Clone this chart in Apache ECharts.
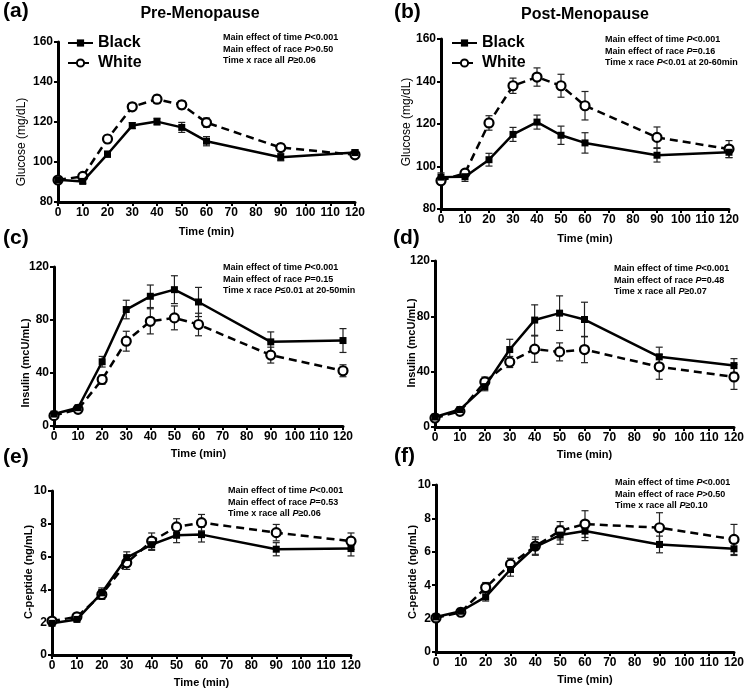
<!DOCTYPE html>
<html>
<head>
<meta charset="utf-8">
<script src="https://cdn.jsdelivr.net/npm/echarts@6/dist/echarts.min.js"></script>
<style>html,body{margin:0;padding:0;background:#fff;}#c{width:747px;height:689px;}</style>
</head>
<body>
<div id="c"></div>
<script>
// ---- data ----
const times = [0, 10, 20, 30, 40, 50, 60, 90, 120];
const xTicks = [0, 10, 20, 30, 40, 50, 60, 70, 80, 90, 100, 110, 120];

const glucosePreBlack   = [91.1, 90.3, 103.9, 118.2, 120.2, 117.3, 110.4, 102.4, 104.7];
const glucosePreBlackSE = [1.0, 1.0, 1.5, 1.5, 1.7, 2.5, 2.3, 1.8, 1.5];
const glucosePreWhite   = [91.0, 92.8, 111.5, 127.6, 131.4, 128.6, 119.7, 107.2, 103.6];
const glucosePreWhiteSE = [1.0, 1.2, 1.8, 1.7, 2.0, 2.0, 2.3, 2.0, 1.5];

const glucosePostBlack   = [95.0, 95.2, 103.2, 115.1, 120.9, 114.7, 111.1, 105.3, 106.7];
const glucosePostBlackSE = [2.0, 2.2, 3.0, 3.3, 3.3, 4.3, 4.8, 3.2, 2.5];
const glucosePostWhite   = [93.3, 96.9, 120.5, 138.0, 142.1, 138.0, 128.6, 113.7, 108.2];
const glucosePostWhiteSE = [1.5, 1.5, 3.4, 3.6, 4.3, 5.4, 6.7, 4.9, 4.0];

const insulinPreBlack   = [9.0, 13.8, 48.5, 87.9, 97.9, 102.9, 93.6, 63.5, 64.5];
const insulinPreBlackSE = [1.0, 1.0, 4.0, 7.0, 8.5, 10.5, 11.0, 7.5, 9.0];
const insulinPreWhite   = [7.8, 12.6, 35.1, 64.0, 79.0, 81.6, 76.6, 53.5, 41.7];
const insulinPreWhiteSE = [1.0, 1.0, 3.5, 7.5, 9.5, 9.0, 8.5, 6.0, 4.5];

const insulinPostBlack   = [7.2, 12.6, 29.2, 56.0, 77.3, 82.3, 77.7, 50.7, 44.4];
const insulinPostBlackSE = [1.0, 1.0, 3.0, 7.4, 11.0, 12.5, 12.5, 7.0, 5.0];
const insulinPostWhite   = [6.5, 11.3, 32.6, 47.0, 56.3, 54.3, 56.0, 43.5, 36.2];
const insulinPostWhiteSE = [1.0, 1.0, 3.5, 4.0, 9.5, 6.5, 9.5, 9.0, 9.0];

const cpepPreBlack   = [1.93, 2.17, 3.79, 5.94, 6.73, 7.30, 7.34, 6.45, 6.49];
const cpepPreBlackSE = [0.10, 0.10, 0.30, 0.35, 0.35, 0.45, 0.45, 0.40, 0.45];
const cpepPreWhite   = [2.07, 2.33, 3.69, 5.62, 6.94, 7.81, 8.07, 7.46, 6.94];
const cpepPreWhiteSE = [0.10, 0.10, 0.30, 0.40, 0.50, 0.50, 0.50, 0.50, 0.50];

const cpepPostBlack   = [2.10, 2.44, 3.30, 4.94, 6.30, 7.00, 7.24, 6.44, 6.18];
const cpepPostBlackSE = [0.10, 0.12, 0.25, 0.40, 0.45, 0.55, 0.57, 0.50, 0.40];
const cpepPostWhite   = [2.04, 2.38, 3.86, 5.26, 6.34, 7.26, 7.66, 7.44, 6.74];
const cpepPostWhiteSE = [0.10, 0.10, 0.30, 0.35, 0.55, 0.55, 0.80, 0.90, 0.90];

const panelLabels = ['(a)', '(b)', '(c)', '(d)', '(e)', '(f)'];
const columnTitles = ['Pre-Menopause', 'Post-Menopause'];
const yTitles = ['Glucose (mg/dL)', 'Glucose (mg/dL)', 'Insulin (mcU/mL)', 'Insulin (mcU/mL)', 'C-peptide (ng/mL)', 'C-peptide (ng/mL)'];
const xTitle = 'Time (min)';
const seriesNames = ['Black', 'White'];
const statTexts = [
  [['Main effect of time ', 'P', '<0.001'], ['Main effect of race ', 'P', '>0.50'], ['Time x race all ', 'P', '\u22650.06']],
  [['Main effect of time ', 'P', '<0.001'], ['Main effect of race ', 'P', '=0.16'], ['Time x race ', 'P', '<0.01 at 20-60min']],
  [['Main effect of time ', 'P', '<0.001'], ['Main effect of race ', 'P', '=0.15'], ['Time x race ', 'P', '\u22640.01 at 20-50min']],
  [['Main effect of time ', 'P', '<0.001'], ['Main effect of race ', 'P', '=0.48'], ['Time x race all ', 'P', '\u22650.07']],
  [['Main effect of time ', 'P', '<0.001'], ['Main effect of race ', 'P', '=0.53'], ['Time x race all ', 'P', '\u22650.06']],
  [['Main effect of time ', 'P', '<0.001'], ['Main effect of race ', 'P', '>0.50'], ['Time x race all ', 'P', '\u22650.10']]
];

const panelData = [
  {black: glucosePreBlack, blackSE: glucosePreBlackSE, white: glucosePreWhite, whiteSE: glucosePreWhiteSE},
  {black: glucosePostBlack, blackSE: glucosePostBlackSE, white: glucosePostWhite, whiteSE: glucosePostWhiteSE},
  {black: insulinPreBlack, blackSE: insulinPreBlackSE, white: insulinPreWhite, whiteSE: insulinPreWhiteSE},
  {black: insulinPostBlack, blackSE: insulinPostBlackSE, white: insulinPostWhite, whiteSE: insulinPostWhiteSE},
  {black: cpepPreBlack, blackSE: cpepPreBlackSE, white: cpepPreWhite, whiteSE: cpepPreWhiteSE},
  {black: cpepPostBlack, blackSE: cpepPostBlackSE, white: cpepPostWhite, whiteSE: cpepPostWhiteSE}
];
const yScales = [
  {min: 80, max: 160, interval: 20},
  {min: 80, max: 160, interval: 20},
  {min: 0, max: 120, interval: 40},
  {min: 0, max: 120, interval: 40},
  {min: 0, max: 10, interval: 2},
  {min: 0, max: 10, interval: 2}
];

// ---- layout ----
const FONT = '"Liberation Sans", Arial, sans-serif';
const grids = [
  {left: 58, top: 42, width: 297, height: 160},
  {left: 441, top: 39, width: 288, height: 170},
  {left: 54, top: 267, width: 289, height: 159},
  {left: 435, top: 261, width: 301, height: 166},
  {left: 52, top: 491, width: 299, height: 164},
  {left: 436, top: 485, width: 300, height: 167}
];
const labelPos = [[3, 11], [394, 12], [3, 238], [393, 238], [3, 457], [394, 456]];
const titlePos = [[200, 14], [585, 15]];
const yTitlePos = [[22, 142], [407, 122], [26, 363], [412, 343], [29, 572], [413, 572]];
const statPos = [[223, 32], [605, 34], [223, 262], [614, 263], [228, 485], [615, 477]];

const xAxes = [], yAxes = [], series = [], graphics = [];

function errRender(params, api) {
  const x = api.value(0);
  const top = api.coord([x, api.value(2)]);
  const bot = api.coord([x, api.value(1)]);
  const cap = 3.5;
  const st = {stroke: '#222', lineWidth: 1.2};
  return {type: 'group', children: [
    {type: 'line', shape: {x1: top[0], y1: top[1], x2: bot[0], y2: bot[1]}, style: st},
    {type: 'line', shape: {x1: top[0] - cap, y1: top[1], x2: top[0] + cap, y2: top[1]}, style: st},
    {type: 'line', shape: {x1: bot[0] - cap, y1: bot[1], x2: bot[0] + cap, y2: bot[1]}, style: st}
  ]};
}

grids.forEach((g, i) => {
  xAxes.push({
    type: 'value', gridIndex: i, min: xTicks[0], max: xTicks[xTicks.length - 1], interval: xTicks[1] - xTicks[0],
    name: xTitle, nameLocation: 'middle', nameGap: (i < 2 ? 24 : 22),
    nameTextStyle: {fontFamily: FONT, fontWeight: 'bold', fontSize: 11, color: '#000'},
    axisLine: {onZero: false, lineStyle: {color: '#000', width: 3}},
    axisTick: {show: true, length: 4, lineStyle: {color: '#000', width: 2}},
    axisLabel: {margin: 5, fontFamily: FONT, fontWeight: 'bold', fontSize: 12, color: '#000', hideOverlap: false},
    splitLine: {show: false}
  });
  const ys = yScales[i];
  yAxes.push({
    type: 'value', gridIndex: i, min: ys.min, max: ys.max, interval: ys.interval,
    axisLine: {show: true, onZero: false, lineStyle: {color: '#000', width: 3}},
    axisTick: {show: true, length: 4, lineStyle: {color: '#000', width: 2}},
    axisLabel: {margin: 5, fontFamily: FONT, fontWeight: 'bold', fontSize: 12, color: '#000'},
    splitLine: {show: false}
  });
  const d = panelData[i];
  const mk = (vals, se) => times.map((t, k) => [t, vals[k] - se[k], vals[k] + se[k]]);
  series.push({
    type: 'custom', xAxisIndex: i, yAxisIndex: i, renderItem: errRender,
    data: mk(d.white, d.whiteSE), encode: {x: 0, y: [1, 2]}, z: 1, silent: true
  });
  series.push({
    type: 'custom', xAxisIndex: i, yAxisIndex: i, renderItem: errRender,
    data: mk(d.black, d.blackSE), encode: {x: 0, y: [1, 2]}, z: 1, silent: true
  });
  series.push({
    name: seriesNames[1], type: 'line', xAxisIndex: i, yAxisIndex: i,
    data: times.map((t, k) => [t, d.white[k]]),
    symbol: 'circle', symbolSize: 9, clip: false,
    lineStyle: {color: '#000', width: 2.5, type: [8, 5]},
    itemStyle: {color: '#fff', borderColor: '#000', borderWidth: 2.2},
    z: 3, animation: false
  });
  series.push({
    name: seriesNames[0], type: 'line', xAxisIndex: i, yAxisIndex: i,
    data: times.map((t, k) => [t, d.black[k]]),
    symbol: 'rect', symbolSize: 7, clip: false,
    lineStyle: {color: '#000', width: 2.5},
    itemStyle: {color: '#000', borderColor: '#000', borderWidth: 0},
    z: 4, animation: false
  });

  graphics.push({type: 'text', x: labelPos[i][0], y: labelPos[i][1],
    style: {text: panelLabels[i], font: 'bold 21px ' + FONT, fill: '#000', textAlign: 'left', textVerticalAlign: 'middle'}});
  graphics.push({type: 'text', x: yTitlePos[i][0], y: yTitlePos[i][1], rotation: Math.PI / 2,
    style: {text: yTitles[i], font: (i < 2 ? 'normal 12px ' : 'bold 11px ') + FONT, fill: '#000', textAlign: 'center', textVerticalAlign: 'middle'}});
  const lines = statTexts[i].map(p => '{n|' + p[0] + '}{i|' + p[1] + '}{n|' + p[2] + '}').join('\n');
  graphics.push({type: 'text', x: statPos[i][0], y: statPos[i][1],
    style: {text: lines, textAlign: 'left', textVerticalAlign: 'top', fill: '#000',
      rich: {
        n: {fontFamily: FONT, fontWeight: 'bold', fontSize: 9, lineHeight: 11.5, fill: '#000'},
        i: {fontFamily: FONT, fontWeight: 'bold', fontStyle: 'italic', fontSize: 9, lineHeight: 11.5, fill: '#000'}
      }}});
});
columnTitles.forEach((t, j) => {
  graphics.push({type: 'text', x: titlePos[j][0], y: titlePos[j][1],
    style: {text: t, font: 'bold 16px ' + FONT, fill: '#000', textAlign: 'center', textVerticalAlign: 'middle'}});
});

const legendCommon = {
  data: seriesNames, orient: 'vertical', itemWidth: 25, itemHeight: 9, itemGap: 4, selectedMode: false,
  textStyle: {fontFamily: FONT, fontWeight: 'bold', fontSize: 16, color: '#000'}
};

const chart = echarts.init(document.getElementById('c'), null, {renderer: 'canvas'});
chart.setOption({
  animation: false,
  backgroundColor: '#fff',
  grid: grids,
  xAxis: xAxes,
  yAxis: yAxes,
  legend: [
    Object.assign({left: 62, top: 30}, legendCommon),
    Object.assign({left: 446, top: 30}, legendCommon)
  ],
  series: series,
  graphic: graphics
});
</script>
</body>
</html>
